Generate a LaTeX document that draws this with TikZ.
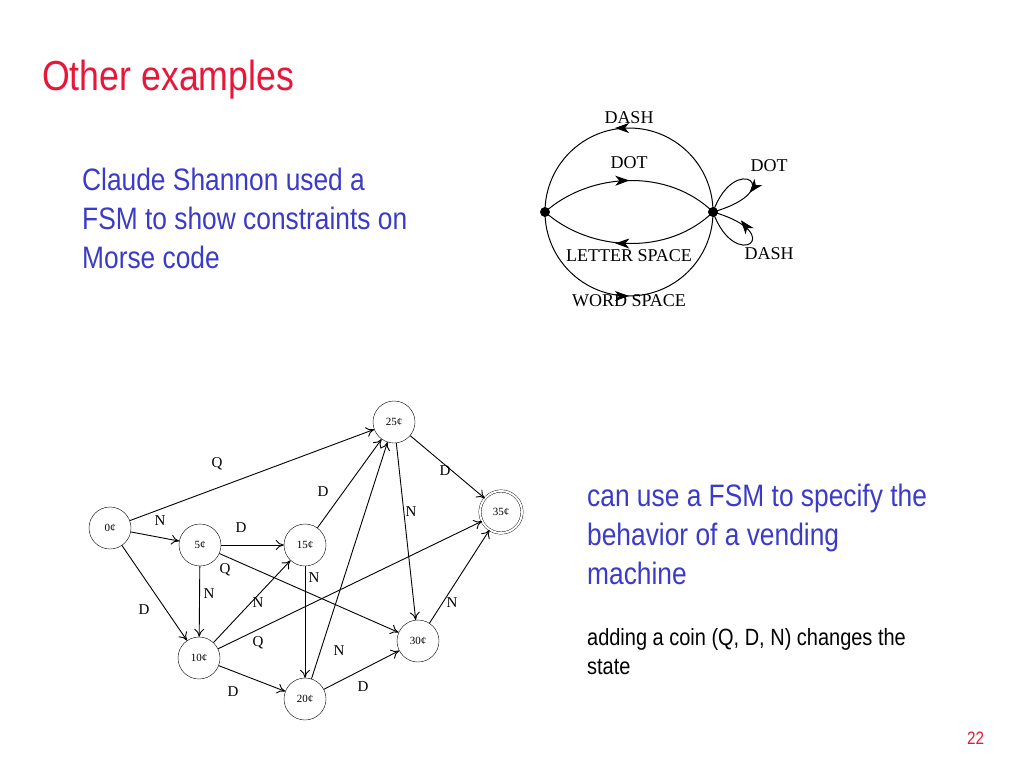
\documentclass[tikz,border=0pt]{standalone}
\usepackage{fontspec}
\setmainfont{Liberation Serif}
\newfontfamily\sansf{Liberation Sans}
\usetikzlibrary{arrows.meta,decorations.markings}
\definecolor{titlered}{HTML}{E8173A}
\definecolor{txtblue}{HTML}{3B3BC8}
\begin{document}
\begin{tikzpicture}[x=1pt,y=-1pt,
  st/.style={circle,draw,minimum size=42pt,inner sep=0pt,font=\fontsize{11}{12}\selectfont},
  ed/.style={-{To[length=8pt,width=10pt]},line width=0.9pt},
  lb/.style={font=\fontsize{15}{16}\selectfont},
  ml/.style={font=\fontsize{18}{19}\selectfont},
  mid/.style={postaction={decorate},decoration={markings,mark=at position #1 with {\arrow{Stealth[length=14pt,width=10pt,inset=4pt]}}}},
  midr/.style={postaction={decorate},decoration={markings,mark=at position #1 with {\arrow{Stealth[length=14pt,width=10pt,inset=4pt,reversed]}}}},
  ttl/.style={anchor=west,xscale=0.85,transform shape,inner sep=0pt}]
\useasboundingbox (0,0) rectangle (1024,781);
% title and texts
\node[ttl,text=titlered,font=\sansf\fontsize{42}{44}\selectfont] (title) at (42,80) {Other examples};
\node[ttl,text=txtblue,font=\sansf\fontsize{31}{39}\selectfont,align=left,anchor=north west] (t1) at (82,168) {Claude Shannon used a\\FSM to show constraints on\\Morse code};
\node[ttl,text=txtblue,font=\sansf\fontsize{31}{39}\selectfont,align=left,anchor=north west] (t2) at (587,484) {can use a FSM to specify the\\behavior of a vending\\machine};
\node[ttl,font=\sansf\fontsize{23.5}{29}\selectfont,align=left,anchor=north west] (t3) at (587,628) {adding a coin (Q, D, N) changes the\\state};
\node[ttl,text=titlered,font=\sansf\fontsize{18}{19}\selectfont] (pg) at (967,738) {22};
% Morse
\node[circle,fill,inner sep=0pt,minimum size=10pt] (L) at (545,212) {};
\node[circle,fill,inner sep=0pt,minimum size=10pt] (R) at (713,212) {};
\draw[line width=1pt,mid=0.5] (L.center) arc[start angle=180,end angle=0,radius=84];
\draw[line width=1pt,mid=0.5] (L.center) .. controls (590,172) and (668,168) .. (R.center);
\draw[line width=1pt,midr=0.5] (L.center) .. controls (590,252) and (668,256) .. (R.center);
\draw[line width=1pt,midr=0.5] (L.center) arc[start angle=180,end angle=360,radius=84];
\draw[line width=1pt,mid=0.62] (R.center) .. controls (735,150) and (790,190) .. (R.center);
\draw[line width=1pt,midr=0.38] (R.center) .. controls (790,234) and (735,274) .. (R.center);
\node[ml] (m1) at (629,118) {DASH};
\node[ml] (m2) at (629,163) {DOT};
\node[ml] (m3) at (769,166) {DOT};
\node[ml] (m4) at (629,256) {LETTER SPACE};
\node[ml] (m5) at (629,301) {WORD SPACE};
\node[ml] (m6) at (769,254) {DASH};
% vending
\node[st] (s0) at (110,528) {0¢};
\node[st] (s5) at (200,545) {5¢};
\node[st] (s15) at (305,545) {15¢};
\node[st] (s25) at (394,422) {25¢};
\node[st,double,double distance=2pt] (s35) at (501,512) {35¢};
\node[st] (s30) at (418,641) {30¢};
\node[st] (s10) at (199,658) {10¢};
\node[st] (s20) at (305,699) {20¢};
\draw[ed] (s0) -- (s25);
\draw[ed] (s0) -- (s5);
\draw[ed] (s0) -- (s10);
\draw[ed] (s5) -- (s15);
\draw[ed] (s5) -- (s10);
\draw[ed] (s5) -- (s30);
\draw[ed] (s15) -- (s25);
\draw[ed] (s15) -- (s20);
\draw[ed] (s10) -- (s15);
\draw[ed] (s10) -- (s35);
\draw[ed] (s10) -- (s20);
\draw[ed] (s20) -- (s25);
\draw[ed] (s20) -- (s30);
\draw[ed] (s25) -- (s35);
\draw[ed] (s25) -- (s30);
\draw[ed] (s30) -- (s35);
\node[lb] (l1) at (217,464) {Q};
\node[lb] (l2) at (160,521) {N};
\node[lb] (l3) at (144,610) {D};
\node[lb] (l4) at (241,528) {D};
\node[lb] (l5) at (225,570) {Q};
\node[lb] (l6) at (209,594) {N};
\node[lb] (l7) at (258,603) {N};
\node[lb] (l8) at (323,492) {D};
\node[lb] (l9) at (314,578) {N};
\node[lb] (l10) at (258,643) {Q};
\node[lb] (l11) at (339,651) {N};
\node[lb] (l12) at (233,692) {D};
\node[lb] (l13) at (363,687) {D};
\node[lb] (l14) at (411,512) {N};
\node[lb] (l15) at (445,471) {D};
\node[lb] (l16) at (452,603) {N};
\end{tikzpicture}
\end{document}
